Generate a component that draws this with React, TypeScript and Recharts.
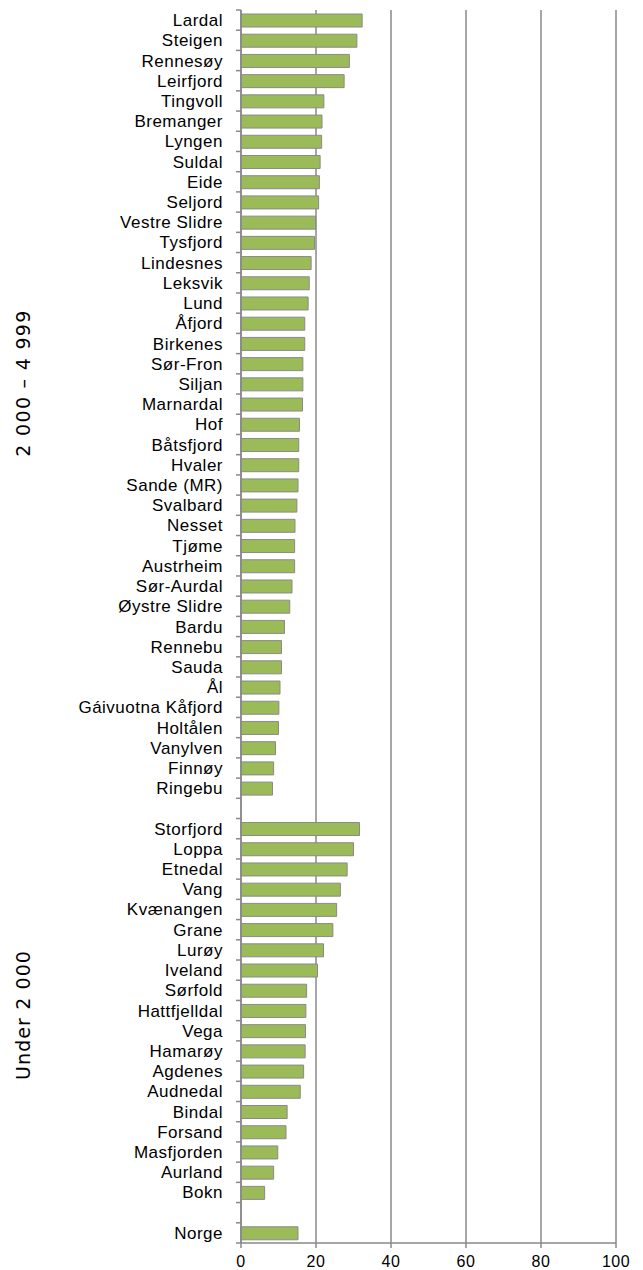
import React from 'react';
import { BarChart, Bar, XAxis, YAxis, CartesianGrid } from 'recharts';

// Kommuner 2 000 – 4 999 innbyggere
const midNames = [
    'Lardal', 'Steigen', 'Rennesøy', 'Leirfjord', 'Tingvoll', 'Bremanger', 'Lyngen', 'Suldal',
    'Eide', 'Seljord', 'Vestre Slidre', 'Tysfjord', 'Lindesnes', 'Leksvik', 'Lund', 'Åfjord',
    'Birkenes', 'Sør-Fron', 'Siljan', 'Marnardal', 'Hof', 'Båtsfjord', 'Hvaler', 'Sande (MR)',
    'Svalbard', 'Nesset', 'Tjøme', 'Austrheim', 'Sør-Aurdal', 'Øystre Slidre', 'Bardu',
    'Rennebu', 'Sauda', 'Ål', 'Gáivuotna Kåfjord', 'Holtålen', 'Vanylven', 'Finnøy', 'Ringebu',
];
const midValues = [
    32.3, 30.9, 28.9, 27.5, 22.1, 21.6, 21.5, 21.1,
    20.9, 20.7, 19.9, 19.6, 18.7, 18.2, 17.9, 17.0,
    17.0, 16.5, 16.5, 16.4, 15.6, 15.4, 15.4, 15.2,
    14.9, 14.4, 14.3, 14.3, 13.6, 13.0, 11.6,
    10.8, 10.8, 10.4, 10.1, 10.0, 9.2, 8.7, 8.4,
];

// Kommuner under 2 000 innbyggere
const smallNames = [
    'Storfjord', 'Loppa', 'Etnedal', 'Vang', 'Kvænangen', 'Grane', 'Lurøy', 'Iveland',
    'Sørfold', 'Hattfjelldal', 'Vega', 'Hamarøy', 'Agdenes', 'Audnedal', 'Bindal',
    'Forsand', 'Masfjorden', 'Aurland', 'Bokn',
];
const smallValues = [
    31.6, 30.0, 28.3, 26.5, 25.5, 24.5, 22.0, 20.4,
    17.5, 17.3, 17.2, 17.1, 16.7, 15.8, 12.3,
    12.0, 9.8, 8.7, 6.3,
];

const totalName = 'Norge';
const totalValue = 15.2;

const xTicks = [0, 20, 40, 60, 80, 100];

const groupLabels = ['2 000 – 4 999', 'Under 2 000'];

type Row = { id: string; name: string; value: number | null };

const rows: Row[] = [
    ...midNames.map((n, i) => ({ id: `m${i}`, name: n, value: midValues[i] })),
    { id: 'gap1', name: '', value: null },
    ...smallNames.map((n, i) => ({ id: `s${i}`, name: n, value: smallValues[i] })),
    { id: 'gap2', name: '', value: null },
    { id: 'total', name: totalName, value: totalValue },
];

const WIDTH = 643;
const HEIGHT = 1270;
const TOP = 10;
const XAXIS_H = 27;
const STEP = (HEIGHT - TOP - XAXIS_H) / rows.length;
const GRID = '#898989';
const FONT = '"Liberation Sans", Arial, sans-serif';

const CategoryTick = (props: any) => {
    const { x, y, payload, index } = props;
    const row = rows[index] || rows.find(r => r.id === payload.value);
    return (
        <g>
            <line x1={x - 5} x2={x} y1={y - STEP / 2} y2={y - STEP / 2} stroke={GRID} strokeWidth={1.5} />
            {index === rows.length - 1 && (
                <line x1={x - 5} x2={x} y1={y + STEP / 2} y2={y + STEP / 2} stroke={GRID} strokeWidth={1.5} />
            )}
            <text x={x - 18} y={y} dy={6} textAnchor="end" fontSize={17} letterSpacing={0.5} fontFamily={FONT} fill="#000">
                {row ? row.name : ''}
            </text>
        </g>
    );
};

export default function App() {
    return (
        <div style={{ position: 'absolute', left: 0, top: 0, width: WIDTH, height: HEIGHT, background: '#fff', overflow: 'hidden' }}>
            <BarChart
                width={WIDTH}
                height={HEIGHT}
                data={rows}
                layout="vertical"
                margin={{ top: TOP, right: 27, bottom: 0, left: 0 }}
                barSize={13}
            >
                <CartesianGrid vertical horizontal={false} stroke={GRID} strokeWidth={1.5} />
                <XAxis
                    type="number"
                    domain={[0, 100]}
                    ticks={xTicks}
                    height={XAXIS_H}
                    stroke={GRID}
                    strokeWidth={1.5}
                    tickSize={5}
                    tickMargin={8}
                    tick={{ fill: '#000', fontSize: 16, letterSpacing: 0.5, fontFamily: FONT }}
                />
                <YAxis
                    type="category"
                    dataKey="id"
                    width={241}
                    interval={0}
                    tickLine={false}
                    tickSize={0}
                    tickMargin={0}
                    stroke={GRID}
                    strokeWidth={1.5}
                    tick={<CategoryTick />}
                />
                <Bar dataKey="value" fill="#9BBB59" stroke="#8a8a8a" strokeWidth={1} isAnimationActive={false} />
            </BarChart>
            <svg width={50} height={HEIGHT} style={{ position: 'absolute', left: 0, top: 0 }}>
                <text
                    transform="translate(23, 383) rotate(-90)"
                    textAnchor="middle"
                    dominantBaseline="central"
                    fontSize={19}
                    letterSpacing={1.3}
                    fontFamily='"DejaVu Sans", Verdana, sans-serif'
                    fill="#000"
                >
                    {groupLabels[0]}
                </text>
                <text
                    transform="translate(23, 1015) rotate(-90)"
                    textAnchor="middle"
                    dominantBaseline="central"
                    fontSize={19}
                    letterSpacing={1.1}
                    fontFamily='"DejaVu Sans", Verdana, sans-serif'
                    fill="#000"
                >
                    {groupLabels[1]}
                </text>
            </svg>
        </div>
    );
}
